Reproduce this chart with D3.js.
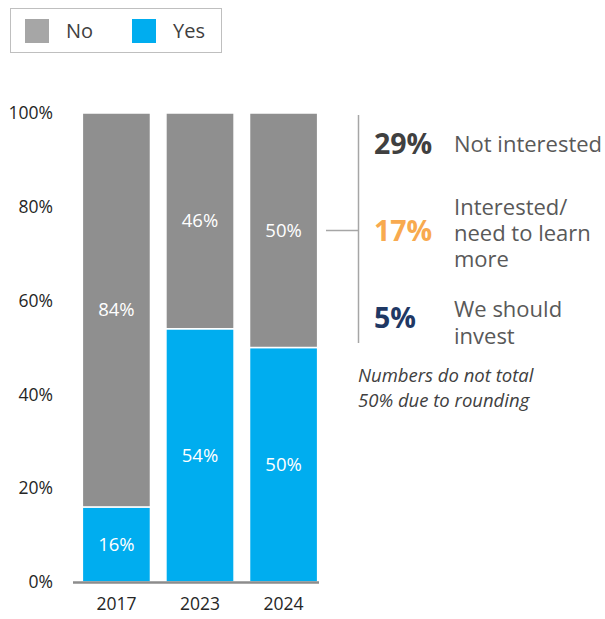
<!DOCTYPE html>
<html>
<head>
<meta charset="utf-8">
<script src="https://cdn.jsdelivr.net/npm/d3@7"></script>
<style>
  html, body { margin: 0; padding: 0; background: #fff; }
  svg { display: block; font-family: "Open Sans", "Noto Sans", sans-serif; }
</style>
</head>
<body>
<svg id="chart" width="605" height="619"></svg>
<script>
// Share of respondents by survey year
const years = ["2017", "2023", "2024"];
const yesValues = [16, 54, 50];
const noValues = [84, 46, 50];
const seriesNames = ["No", "Yes"];
const seriesColors = { No: "#8f8f8f", Yes: "#00adef" };
const yTicks = [0, 20, 40, 60, 80, 100];

// Breakdown of the 2024 "No" answers
const breakdownValues = ["29%", "17%", "5%"];
const breakdownColors = ["#404040", "#f8aa4f", "#1f3864"];
const breakdownLabels = [["Not interested"], ["Interested/", "need to learn", "more"], ["We should", "invest"]];
const noteLines = ["Numbers do not total", "50% due to rounding"];

const svg = d3.select("#chart");

const x = d3.scaleBand().domain(years).range([74, 326]).paddingInner(0.185).paddingOuter(0.1);
const y = d3.scaleLinear().domain([0, 100]).range([582, 113]);

const rows = years.map((yr, i) => ({ year: yr, Yes: yesValues[i], No: noValues[i] }));
const stack = d3.stack().keys(["Yes", "No"])(rows);

// Stacked bars
const g = svg.append("g");
stack.forEach(layer => {
  g.selectAll(null).data(layer).join("rect")
    .attr("x", d => x(d.data.year))
    .attr("width", x.bandwidth())
    .attr("y", d => y(d[1]))
    .attr("height", d => y(d[0]) - y(d[1]))
    .attr("fill", seriesColors[layer.key])
    .attr("stroke", "#fff")
    .attr("stroke-width", 1.5);

  g.selectAll(null).data(layer).join("text")
    .attr("x", d => x(d.data.year) + x.bandwidth() / 2)
    .attr("y", d => (y(d[0]) + y(d[1])) / 2)
    .attr("dy", "0.35em")
    .attr("text-anchor", "middle")
    .attr("fill", "#fff")
    .attr("font-size", 18.5)
    .text(d => d.data[layer.key] + "%");
});

// Y axis labels
const yAxis = svg.append("g").attr("transform", "translate(53,0)")
  .call(d3.axisLeft(y).tickValues(yTicks).tickFormat(d => d + "%").tickSize(0).tickPadding(0));
yAxis.select(".domain").remove();
yAxis.selectAll("text").attr("font-size", 17.5).attr("fill", "#262626").attr("font-family", "Open Sans, sans-serif");

// X axis
const xAxis = svg.append("g").attr("transform", `translate(0,${y(0)})`)
  .call(d3.axisBottom(x).tickSize(0).tickPadding(16));
xAxis.select(".domain").remove();
xAxis.selectAll("text").attr("font-size", 17.5).attr("fill", "#262626").attr("font-family", "Open Sans, sans-serif");
svg.append("line")
  .attr("x1", 73).attr("x2", 319).attr("y1", y(0) + 0.5).attr("y2", y(0) + 0.5)
  .attr("stroke", "#8c8c8c").attr("stroke-width", 2.5);

// Legend
const legend = svg.append("g");
legend.append("rect").attr("x", 10.5).attr("y", 8.5).attr("width", 211).attr("height", 44)
  .attr("fill", "#fff").attr("stroke", "#bfbfbf").attr("stroke-width", 1);
const legendX = [25, 132];
seriesNames.forEach((name, i) => {
  legend.append("rect").attr("x", legendX[i]).attr("y", 19).attr("width", 24).attr("height", 24)
    .attr("fill", name === "No" ? "#a6a6a6" : seriesColors[name]);
  legend.append("text").attr("x", legendX[i] + 41).attr("y", 31).attr("dy", "0.35em")
    .attr("font-size", 20).attr("fill", "#404040").text(name);
});

// Bracket connecting the 2024 "No" segment to its breakdown
const bx = 358;
svg.append("line").attr("x1", bx + 0.5).attr("x2", bx + 0.5).attr("y1", 115).attr("y2", 343)
  .attr("stroke", "#a6a6a6").attr("stroke-width", 1.5);
svg.append("line").attr("x1", 326).attr("x2", bx).attr("y1", 230.5).attr("y2", 230.5)
  .attr("stroke", "#a6a6a6").attr("stroke-width", 1.5);

const valueY = [144, 231, 318];
const labelY = [[144], [207, 233, 259], [309, 336]];
breakdownValues.forEach((v, i) => {
  svg.append("text").attr("x", 374).attr("y", valueY[i]).attr("dy", "0.35em")
    .attr("font-size", 28.5).attr("font-weight", 700).attr("fill", breakdownColors[i]).text(v);
  breakdownLabels[i].forEach((line, j) => {
    svg.append("text").attr("x", 454).attr("y", labelY[i][j]).attr("dy", "0.35em")
      .attr("font-size", 22).attr("fill", "#595959").text(line);
  });
});

noteLines.forEach((line, j) => {
  svg.append("text").attr("x", 358).attr("y", 376 + j * 25).attr("dy", "0.35em")
    .attr("font-size", 18.5).attr("font-style", "italic").attr("fill", "#404040").text(line);
});
</script>
</body>
</html>
